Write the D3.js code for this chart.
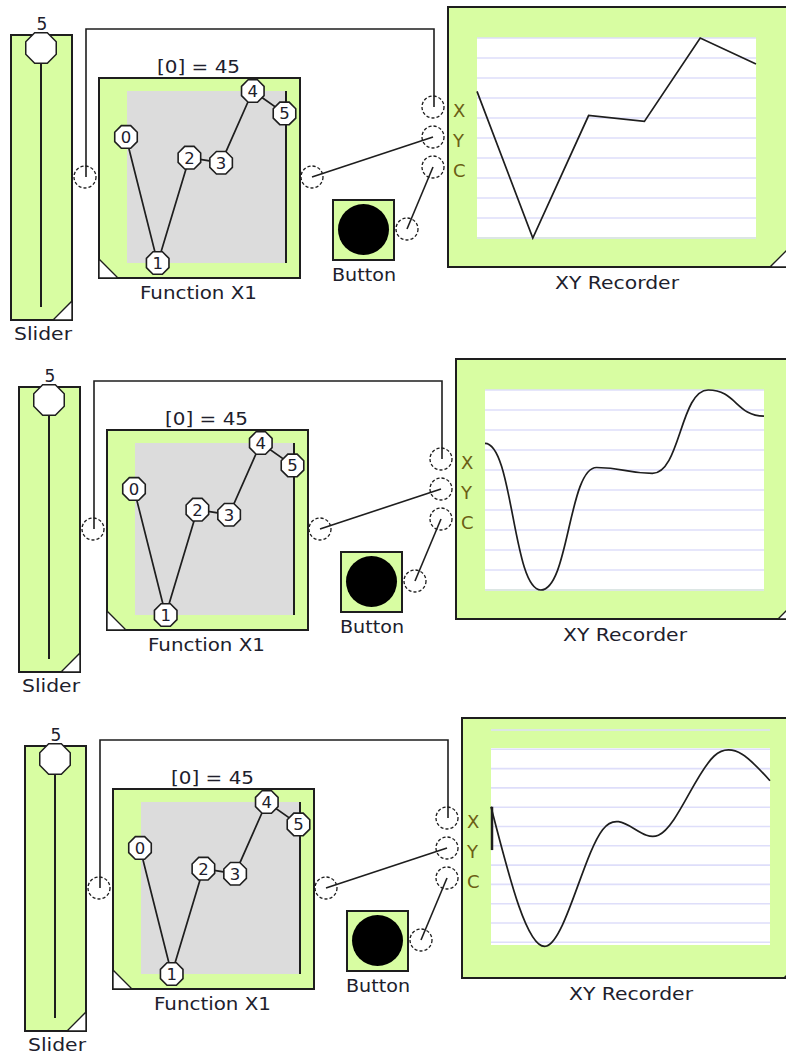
<!DOCTYPE html>
<html><head><meta charset="utf-8">
<script src="https://cdn.jsdelivr.net/npm/d3@7"></script>
<style>
html,body{margin:0;padding:0;background:#fff;}
svg{display:block;}
text{font-family:"DejaVu Sans",Verdana,sans-serif;}
</style></head><body>
<svg id="chart" width="786" height="1055"></svg>
<script>
// ---- data ----
const nodeIndex = [0, 1, 2, 3, 4, 5];
const nodeValues = [45, 0, 37.6, 35.8, 61.4, 53.4];
const nodeLabels = ["0", "1", "2", "3", "4", "5"];
const sliderDomain = [0, 5];
const sliderValue = 5;
const startMark = [45, 31];          // short vertical trace at the start of the 3rd recorder
const portLabels = ["X", "Y", "C"];
const titleText = "[0] = 45";
const functionText = "Function X1";
const sliderText = "Slider";
const buttonText = "Button";
const recorderText = "XY Recorder";

// ---- styling / layout ----
const ink = "#1e1e1e";
const green = "#d8fda2";
const gray = "#dcdcdc";
const gridColor = "#dedefa";
const labelColor = "#20202c";
const portColor = "#6b5e14";

const panels = [
  {dx: 0,  dy: 0,   curve: d3.curveLinear,  plotTop: 38, plotBottom: 237, yRange: [238, 38], gridStart: 38, gridStep: 20,   gridCount: 11, mark: false},
  {dx: 8,  dy: 352, curve: d3.curveBumpX,   plotTop: 38, plotBottom: 237, yRange: [238, 38], gridStart: 38, gridStep: 20,   gridCount: 11, mark: false},
  {dx: 14, dy: 711, curve: d3.curveNatural, plotTop: 37, plotBottom: 234, yRange: [235, 45], gridStart: 19, gridStep: 19.3, gridCount: 12, mark: true}
];

const svg = d3.select("#chart");
const valueMax = d3.max(nodeValues);

function octagon(r) {
  const pts = d3.range(8).map(i => {
    const a = Math.PI / 8 + i * Math.PI / 4;
    return [r * Math.cos(a), r * Math.sin(a)];
  });
  return d3.line()(pts) + "Z";
}

function label(g, txt, x, y, len, size, color) {
  const t = g.append("text").attr("x", x).attr("y", y)
    .attr("text-anchor", "middle").attr("font-size", size || 17)
    .attr("fill", color || labelColor).text(txt);
  if (len) t.attr("textLength", len).attr("lengthAdjust", "spacingAndGlyphs");
  return t;
}

function port(g, x, y) {
  g.append("circle").attr("cx", x).attr("cy", y).attr("r", 11)
    .attr("fill", "none").attr("stroke", ink).attr("stroke-width", 1.3)
    .attr("stroke-dasharray", "3.2 2");
}

panels.forEach(p => {
  const g = svg.append("g").attr("transform", `translate(${p.dx},${p.dy})`);

  // ---- wires ----
  const wires = g.append("g").attr("fill", "none").attr("stroke", ink).attr("stroke-width", 1.6);
  wires.append("path").attr("d", d3.line()([[86, 177], [86, 29], [434, 29], [434, 107]]));
  wires.append("path").attr("d", d3.line()([[312, 177], [433, 137]]));
  wires.append("path").attr("d", d3.line()([[407, 229], [433, 167]]));

  // ---- slider ----
  g.append("rect").attr("x", 11).attr("y", 35).attr("width", 61).attr("height", 285)
    .attr("fill", green).attr("stroke", ink).attr("stroke-width", 2);
  g.append("path").attr("d", "M72,301L72,320L53,320Z").attr("fill", "#fff")
    .attr("stroke", ink).attr("stroke-width", 1.4);
  const sy = d3.scaleLinear().domain(sliderDomain).range([307, 48]);
  g.append("line").attr("x1", 41).attr("x2", 41).attr("y1", sy(sliderDomain[1])).attr("y2", sy(sliderDomain[0]))
    .attr("stroke", ink).attr("stroke-width", 2);
  g.append("path").attr("d", octagon(16.5)).attr("transform", `translate(41,${sy(sliderValue)})`)
    .attr("fill", "#fff").attr("stroke", ink).attr("stroke-width", 1.5);
  label(g, String(sliderValue), 42, 30, null, 17);
  label(g, sliderText, 43, 340, 58, 17);

  // ---- function block ----
  g.append("rect").attr("x", 99).attr("y", 78).attr("width", 201).attr("height", 200)
    .attr("fill", green).attr("stroke", ink).attr("stroke-width", 2);
  g.append("rect").attr("x", 127).attr("y", 91).attr("width", 159).attr("height", 172).attr("fill", gray);
  g.append("line").attr("x1", 286).attr("x2", 286).attr("y1", 91).attr("y2", 263)
    .attr("stroke", ink).attr("stroke-width", 2);
  g.append("path").attr("d", "M99,259L118,278L99,278Z").attr("fill", "#fff")
    .attr("stroke", ink).attr("stroke-width", 1.4);
  const fx = d3.scaleLinear().domain([0, 5]).range([126, 284.5]);
  const fy = d3.scaleLinear().domain([0, valueMax]).range([263, 91]);
  g.append("path").datum(nodeIndex)
    .attr("d", d3.line().x(i => fx(i)).y(i => fy(nodeValues[i])))
    .attr("fill", "none").attr("stroke", ink).attr("stroke-width", 1.7);
  const nodes = g.selectAll(".node").data(nodeIndex).join("g")
    .attr("transform", i => `translate(${fx(i)},${fy(nodeValues[i])})`);
  nodes.append("path").attr("d", octagon(12.2)).attr("fill", "#fff")
    .attr("stroke", ink).attr("stroke-width", 1.6);
  nodes.append("text").attr("text-anchor", "middle").attr("y", 6)
    .attr("font-size", 16.5).attr("fill", labelColor).text(i => nodeLabels[i]);
  label(g, titleText, 198.5, 73, 83, 17);
  label(g, functionText, 198.5, 299, 117, 17);

  // ---- button ----
  g.append("rect").attr("x", 333).attr("y", 200).attr("width", 61).attr("height", 60)
    .attr("fill", green).attr("stroke", ink).attr("stroke-width", 2);
  g.append("circle").attr("cx", 363.5).attr("cy", 229.5).attr("r", 25.5).attr("fill", "#000");
  label(g, buttonText, 364, 281, 64, 17);

  // ---- XY recorder ----
  g.append("rect").attr("x", 448).attr("y", 7).attr("width", 341).attr("height", 260)
    .attr("fill", green).attr("stroke", ink).attr("stroke-width", 2);
  g.append("path").attr("d", "M770,267L789,248L789,267Z").attr("fill", "#fff")
    .attr("stroke", ink).attr("stroke-width", 1.4);
  g.append("rect").attr("x", 477).attr("y", p.plotTop).attr("width", 279)
    .attr("height", p.plotBottom - p.plotTop).attr("fill", "#fff");
  const gridYs = d3.range(p.gridCount).map(k => p.gridStart + k * p.gridStep);
  g.selectAll(".grid").data(gridYs).join("line")
    .attr("x1", 477).attr("x2", 756).attr("y1", d => d).attr("y2", d => d)
    .attr("stroke", gridColor).attr("stroke-width", 1.6);
  const rx = d3.scaleLinear().domain([0, 5]).range([477, 756]);
  const ry = d3.scaleLinear().domain([0, valueMax]).range(p.yRange);
  if (p.mark) {
    g.append("line").attr("x1", rx(0) + 1).attr("x2", rx(0) + 1)
      .attr("y1", ry(startMark[0])).attr("y2", ry(startMark[1]))
      .attr("stroke", ink).attr("stroke-width", 2.5);
  }
  g.append("path").datum(nodeIndex)
    .attr("d", d3.line().curve(p.curve).x(i => rx(i)).y(i => ry(nodeValues[i])))
    .attr("fill", "none").attr("stroke", ink).attr("stroke-width", 1.7);
  label(g, recorderText, 617, 289, 124, 17);
  portLabels.forEach((t, k) => {
    g.append("text").attr("x", 453).attr("y", 117 + 30 * k).attr("font-size", 18)
      .attr("fill", portColor).text(t);
  });

  // ---- ports ----
  port(g, 85, 177);
  port(g, 312, 177);
  port(g, 407, 229);
  [107, 137, 167].forEach(y => port(g, 433, y));
});
</script>
</body></html>
